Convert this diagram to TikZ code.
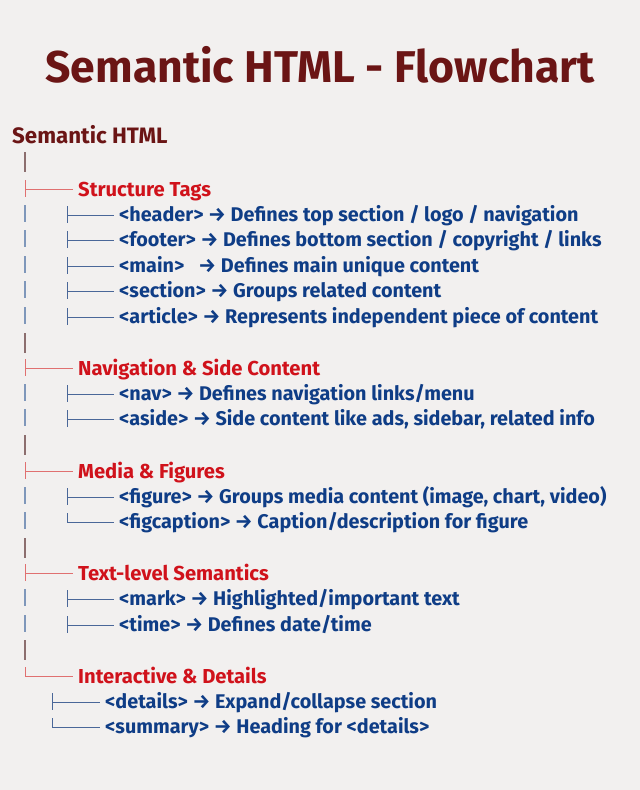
\documentclass[tikz,border=0pt]{standalone}
\usepackage{fontspec}
\setmainfont{Fira Sans}
\definecolor{paper}{HTML}{F2F0EF}
\definecolor{darkred}{HTML}{6B1515}
\definecolor{catred}{HTML}{D0121B}
\definecolor{tagblue}{HTML}{0F3D86}
\definecolor{trunkblue}{HTML}{7F97BA}
\definecolor{trunkbrown}{HTML}{8C6E6E}
\definecolor{forkred}{HTML}{E07070}
\definecolor{twigblue}{HTML}{4A6798}
\begin{document}
\begin{tikzpicture}[x=1pt,y=-1pt,
  every node/.style = {inner sep=0pt},
  headline/.style = {font=\fontsize{44.5}{44}\selectfont\bfseries, text=darkred},
  rootitem/.style = {anchor=west, font=\fontsize{22.3}{22}\selectfont\bfseries,
    text=darkred, text height=19pt, text depth=3.6pt},
  catitem/.style = {anchor=west, font=\fontsize{20.2}{20}\selectfont\bfseries,
    text=catred, text height=17.5pt, text depth=3.5pt},
  tagitem/.style = {anchor=west, font=\fontsize{19.8}{20}\selectfont\bfseries,
    text=tagblue, text height=17pt, text depth=3.4pt},
  trunk/.style = {draw=trunkblue, line width=1.2pt},
  gapline/.style = {draw=trunkbrown, line width=1.2pt},
  fork/.style = {draw=forkred, line width=0.9pt},
  twig/.style = {draw=twigblue, line width=0.9pt}]
  \fill[paper] (0,0) rectangle (640,790);
  \node[headline] (title) at (320,65) {Semantic HTML - Flowchart};
  \node[rootitem] (root) at (12,136) {Semantic HTML};

  % trunk pieces beside the tag rows and the empty rows
  \foreach \c in {215,240,266,291,317,394,419,497,522,599,625}
    \draw[trunk] (25,\c-10) -- (25,\c+7);
  \foreach \c in {162,343,445,548,650}
    \draw[gapline] (25,\c-10) -- (25,\c+10);

  % groups
  \node[catitem] (st) at (78,189) {Structure Tags};
  \node[catitem] (nsc) at (78,368) {Navigation \& Side Content};
  \node[catitem] (mf) at (78,471) {Media \& Figures};
  \node[catitem] (tls) at (78,573) {Text-level Semantics};
  \node[catitem] (ind) at (78,676) {Interactive \& Details};
  \foreach \g in {st,nsc,mf,tls} {
    \coordinate (\g-j) at (25,0 |- \g.west);
    \draw[fork] (\g-j) ++(0,-9) -- ++(0,17);
    \draw[fork, shorten >=5pt] (\g-j) -- (\g.west);
  }
  \coordinate (ind-j) at (25,0 |- ind.west);
  \draw[fork, shorten >=5pt] (ind-j) ++(0,-9) -- (ind-j) -- (ind.west);

  % tags
  \node[tagitem] (header) at (119,215) {<header> → Defines top section / logo / navigation};
  \node[tagitem] (footer) at (119,240) {<footer> → Defines bottom section / copyright / links};
  \node[tagitem] (main) at (119,266) {<main>\ \ \ → Defines main unique content};
  \node[tagitem] (section) at (119,291) {<section> → Groups related content};
  \node[tagitem] (article) at (119,317) {<article> → Represents independent piece of content};
  \node[tagitem] (nav) at (119,394) {<nav> → Defines navigation links/menu};
  \node[tagitem] (aside) at (119,419) {<aside> → Side content like ads, sidebar, related info};
  \node[tagitem] (figure) at (119,497) {<figure> → Groups media content (image, chart, video)};
  \node[tagitem] (figcaption) at (119,522) {<figcaption> → Caption/description for figure};
  \node[tagitem] (mark) at (119,599) {<mark> → Highlighted/important text};
  \node[tagitem] (time) at (119,625) {<time> → Defines date/time};
  \node[tagitem] (details) at (105,702) {<details> → Expand/collapse section};
  \node[tagitem] (summary) at (105,727) {<summary> → Heading for <details>};

  \foreach \t in {header,footer,main,section,article,nav,aside,figure,mark,time} {
    \coordinate (\t-j) at (67,0 |- \t.west);
    \draw[twig] (\t-j) ++(0,-9) -- ++(0,17);
    \draw[twig, shorten >=5pt] (\t-j) -- (\t.west);
  }
  \coordinate (figcaption-j) at (67,0 |- figcaption.west);
  \draw[twig, shorten >=5pt] (figcaption-j) ++(0,-9) -- (figcaption-j) -- (figcaption.west);
  \coordinate (details-j) at (52,0 |- details.west);
  \draw[twig] (details-j) ++(0,-9) -- ++(0,17);
  \draw[twig, shorten >=5pt] (details-j) -- (details.west);
  \coordinate (summary-j) at (52,0 |- summary.west);
  \draw[twig, shorten >=5pt] (summary-j) ++(0,-9) -- (summary-j) -- (summary.west);
\end{tikzpicture}
\end{document}
